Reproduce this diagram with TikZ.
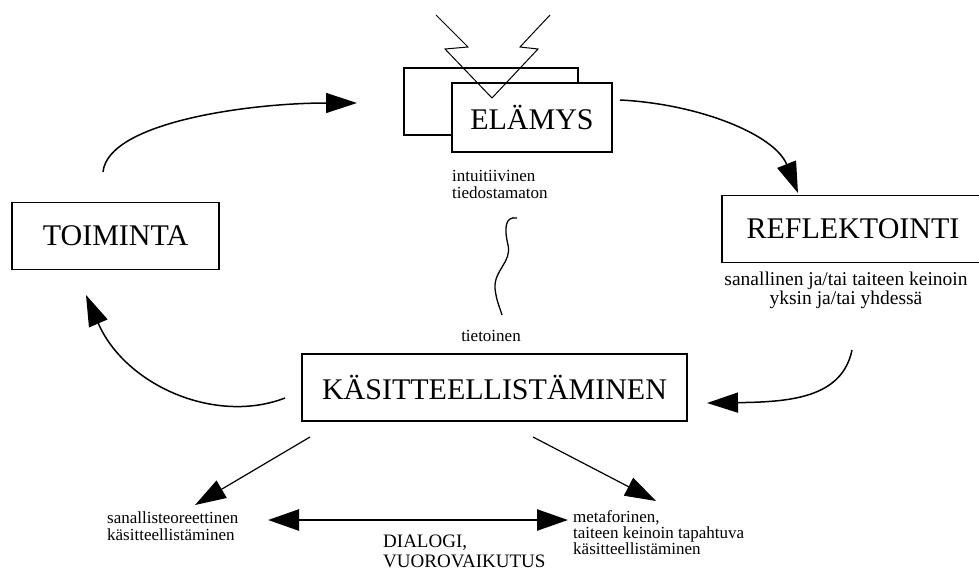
\documentclass[tikz,border=0pt]{standalone}
\usepackage{fontspec}
\setmainfont{Liberation Serif}
\usetikzlibrary{arrows.meta}

\begin{document}
\begin{tikzpicture}[x=1pt,y=-1pt,
  box/.style={draw,line width=1.7pt,fill=white,inner sep=0pt,minimum height=67pt,font=\fontsize{30}{30}\selectfont},
  small/.style={font=\fontsize{17}{17}\selectfont,align=left,inner sep=0pt},
  arr/.style={line width=1.5pt,-{Triangle[length=31pt,width=20pt]}}]
\useasboundingbox (0,0) rectangle (979,578);
% the four stages
\node[box,minimum width=207pt] (toim) at (115.5,236) {TOIMINTA};
\node[box,minimum width=174pt] (back) at (491,101.5) {};
\node[box,minimum width=160pt,minimum height=69pt] (elam) at (532,117.5) {ELÄMYS};
\node[box,minimum width=262pt] (refl) at (853,229) {REFLEKTOINTI};
\node[box,minimum width=385pt] (kasi) at (494.5,387.5) {KÄSITTEELLISTÄMINEN};
% lightning
\draw[line width=1pt] (436,15) -- (468,47) -- (445,49) -- (492,98) -- (538,49) -- (520,47) -- (550,15);
% texts
\node[small,anchor=north west] (intu) at (452,170) {intuitiivinen\\tiedostamaton};
\node[small] (tiet) at (491,336) {tietoinen};
\node[small,align=center,font=\fontsize{19.5}{17.5}\selectfont] (reft) at (846,290) {sanallinen ja/tai taiteen keinoin\\yksin ja/tai yhdessä};
\node[small,anchor=north west] (sana) at (107,511) {sanallisteoreettinen\\käsitteellistäminen};
\node[small,anchor=north west,font=\fontsize{19}{20}\selectfont] (dial) at (383,535) {DIALOGI,\\VUOROVAIKUTUS};
\node[small,anchor=north west,font=\fontsize{17}{16}\selectfont] (meta) at (573,510) {metaforinen,\\taiteen keinoin tapahtuva\\käsitteellistäminen};
% free ends of the arrows
\coordinate (t1) at (103,172);
\coordinate (e1) at (357,103);
\coordinate (e2) at (620,100);
\coordinate (r1) at (798,193);
\coordinate (r2) at (852,350);
\coordinate (k1) at (707,403);
\coordinate (k2) at (285,398);
\coordinate (t2) at (86,295);
\coordinate (k3) at (310,437);
\coordinate (s1) at (195,505);
\coordinate (k4) at (533,437);
\coordinate (m1) at (656,501);
\coordinate (d1) at (268,520);
\coordinate (d2) at (568,520);
% cycle
\draw[arr] (t1) .. controls (108,122) and (250,103) .. (e1);
\draw[arr] (e2) .. controls (700,104) and (775,135) .. (r1);
\draw[arr] (r2) .. controls (842,398) and (790,402) .. (k1);
\draw[arr] (k2) .. controls (215,425) and (125,385) .. (t2);
\draw[line width=1.3pt] (517,218) .. controls (505,216) and (504,228) .. (508,245) .. controls (512,262) and (494,270) .. (495,288) .. controls (496,300) and (500,308) .. (502,315);
% lower part
\draw[arr,line width=1.2pt] (k3) -- (s1);
\draw[arr,line width=1.2pt] (k4) -- (m1);
\draw[line width=2.5pt,{Triangle[length=31pt,width=21pt]}-{Triangle[length=31pt,width=21pt]}] (d1) -- (d2);
\end{tikzpicture}
\end{document}
